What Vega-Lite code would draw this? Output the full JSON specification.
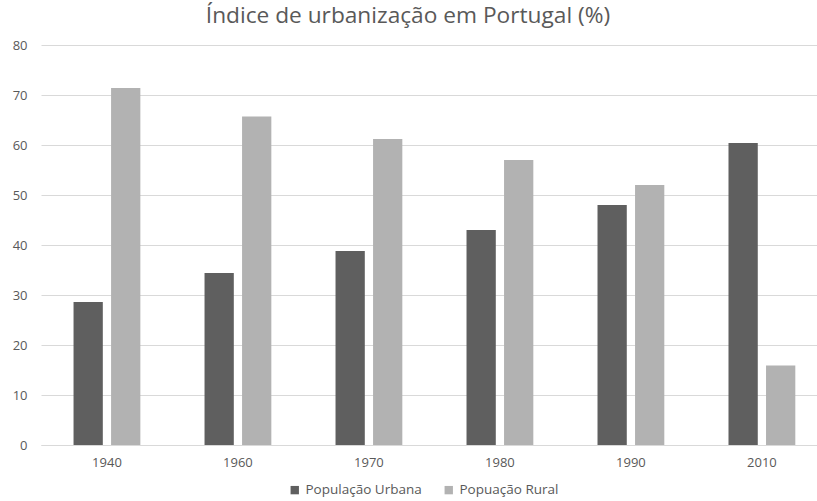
{
  "$schema": "https://vega.github.io/schema/vega-lite/v6.json",
  "width": 776,
  "height": 400,
  "autosize": "none",
  "padding": {"left": 41, "top": 45, "right": 0, "bottom": 56},
  "background": "white",
  "title": {
    "text": "Índice de urbanização em Portugal (%)",
    "font": "Open Sans",
    "fontSize": 22.7,
    "fontWeight": "normal",
    "color": "#595959",
    "anchor": "middle",
    "dx": -21,
    "offset": 11
  },
  "data": {
    "values": [
      {"ano": "1940", "serie": "População Urbana", "valor": 28.6},
      {"ano": "1940", "serie": "Popuação Rural", "valor": 71.4},
      {"ano": "1960", "serie": "População Urbana", "valor": 34.4},
      {"ano": "1960", "serie": "Popuação Rural", "valor": 65.7},
      {"ano": "1970", "serie": "População Urbana", "valor": 38.8},
      {"ano": "1970", "serie": "Popuação Rural", "valor": 61.2},
      {"ano": "1980", "serie": "População Urbana", "valor": 43.0},
      {"ano": "1980", "serie": "Popuação Rural", "valor": 57.0},
      {"ano": "1990", "serie": "População Urbana", "valor": 48.0},
      {"ano": "1990", "serie": "Popuação Rural", "valor": 52.0},
      {"ano": "2010", "serie": "População Urbana", "valor": 60.4},
      {"ano": "2010", "serie": "Popuação Rural", "valor": 15.9}
    ]
  },
  "mark": {"type": "bar"},
  "encoding": {
    "x": {
      "field": "ano",
      "type": "nominal",
      "sort": null,
      "scale": {"paddingInner": 0.49, "paddingOuter": 0.207, "align": 0.6},
      "axis": {
        "title": null,
        "labelAngle": 0,
        "labelFont": "Open Sans",
        "labelFontSize": 13,
        "labelColor": "#595959",
        "labelPadding": 11,
        "ticks": false,
        "domainColor": "#d9d9d9",
        "domainWidth": 1
      }
    },
    "xOffset": {
      "field": "serie",
      "type": "nominal",
      "sort": ["População Urbana", "Popuação Rural"],
      "scale": {"paddingInner": 0.22, "paddingOuter": 0}
    },
    "y": {
      "field": "valor",
      "type": "quantitative",
      "scale": {"domain": [0, 80], "nice": false},
      "axis": {
        "title": null,
        "values": [0, 10, 20, 30, 40, 50, 60, 70, 80],
        "labelFont": "Open Sans",
        "labelFontSize": 13,
        "labelColor": "#595959",
        "labelPadding": 14,
        "ticks": false,
        "domain": false,
        "gridColor": "#d9d9d9",
        "gridWidth": 1
      }
    },
    "color": {
      "field": "serie",
      "type": "nominal",
      "sort": ["População Urbana", "Popuação Rural"],
      "scale": {"domain": ["População Urbana", "Popuação Rural"], "range": ["#5f5f5f", "#b2b2b2"]},
      "legend": {
        "title": null,
        "orient": "none",
        "legendX": 247,
        "legendY": 438,
        "direction": "horizontal",
        "symbolType": "square",
        "symbolSize": 70,
        "symbolStrokeWidth": 0,
        "labelFont": "Open Sans",
        "labelFontSize": 13.5,
        "labelColor": "#595959",
        "columnPadding": 20
      }
    }
  },
  "config": {
    "view": {"stroke": null}
  }
}
